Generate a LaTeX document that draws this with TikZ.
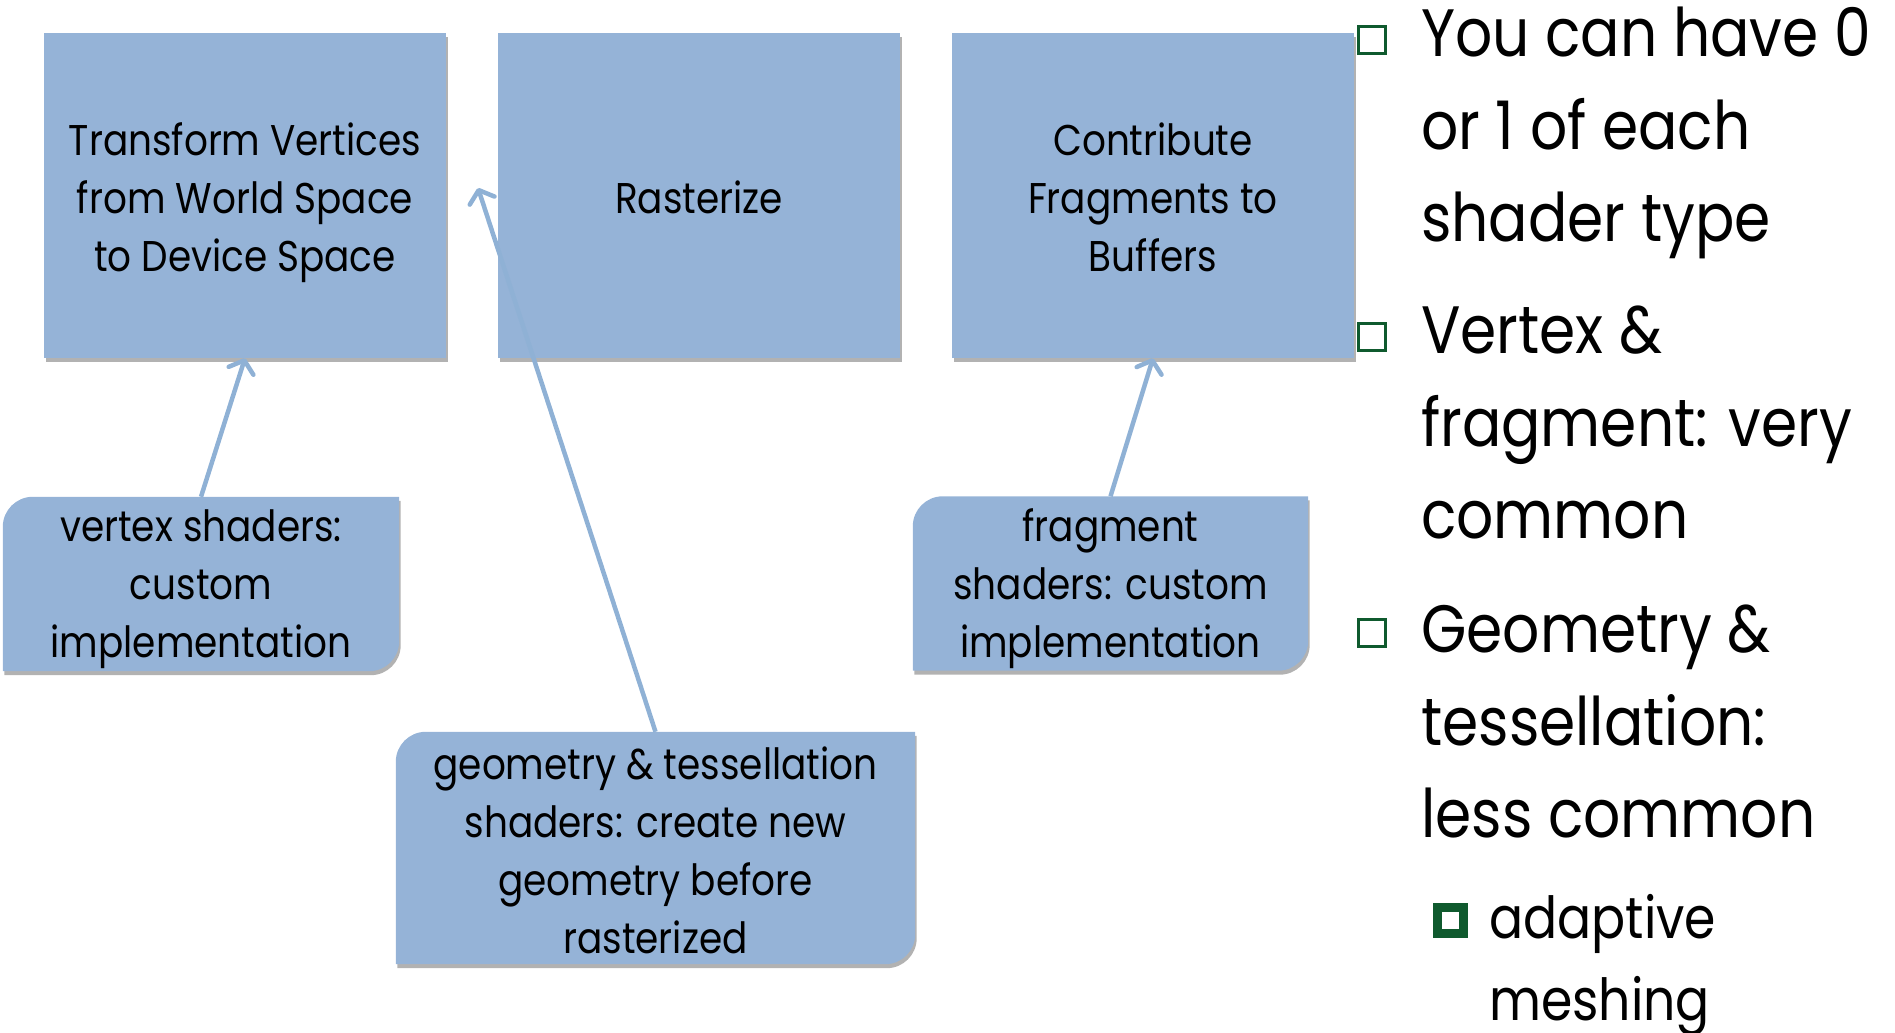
\documentclass[tikz,border=0pt]{standalone}
\usepackage{fontspec}
\setmainfont[FakeStretch=0.87]{Poppins}
\usetikzlibrary{arrows.meta,shadows,calc,backgrounds}
\definecolor{boxblue}{HTML}{95B3D7}
\definecolor{arrowblue}{HTML}{8FB1D5}
\definecolor{bulletgreen}{HTML}{0F5A2E}
\newcommand\bxfont{\fontsize{43}{58}\selectfont}
\newcommand\bigfont{\fontsize{67}{92.5}\selectfont}
\newcommand\subfont{\fontsize{58}{82}\selectfont}
\newcommand\lowered[2]{\raisebox{#1}[\height][\depth]{\begin{tabular}{@{}c@{}}#2\end{tabular}}}
\begin{document}
\begin{tikzpicture}[x=1pt,y=1pt,
  shade/.style={drop shadow={shadow xshift=1.5pt,shadow yshift=-4pt,opacity=0.3,fill=black}},
  stagebox/.style={rectangle, fill=boxblue, minimum width=402pt, minimum height=325pt, inner sep=0pt, shade, font=\bxfont},
  callout/.style={rectangle, inner sep=0pt, font=\bxfont},
  calloutfill/.style={fill=boxblue, shade},
  conn/.style={draw=arrowblue, line width=4.5pt, -{Straight Barb[length=11pt,width=26pt,line width=4.5pt,round]}},
  bulletbox/.style={rectangle, draw=bulletgreen, line width=3pt, minimum size=27pt, inner sep=0pt},
  subbullet/.style={rectangle, draw=bulletgreen, line width=9pt, minimum size=26pt, inner sep=0pt},
  itemtext/.style={anchor=base west, inner sep=0pt, font=\bigfont},
  subtext/.style={anchor=base west, inner sep=0pt, font=\subfont}]
\useasboundingbox (0,0) rectangle (1895,1033);

% stage boxes
\node[stagebox] (b1) at (245,837.5) {\lowered{-6pt}{Transform Vertices\\from World Space\\to Device Space}};
\node[stagebox] (b2) at (699,837.5) {\lowered{-6pt}{Rasterize}};
\node[stagebox] (b3) at (1153,837.5) {\lowered{-6pt}{Contribute\\Fragments to\\Buffers}};

% callouts
\node[callout, minimum width=396pt, minimum height=174pt] (vc) at (201,449) {\lowered{-4pt}{vertex shaders:\\custom\\implementation}};
\node[callout, minimum width=519pt, minimum height=220pt] (gc) at (655.5,185) {\lowered{-6.5pt}{geometry \& tessellation\\shaders: create new\\geometry before\\rasterized}};
\node[callout, minimum width=395pt, minimum height=173pt] (fc) at (1110.5,449.5) {\lowered{-4pt}{fragment\\shaders: custom\\implementation}};

\begin{scope}[on background layer]
\foreach \c in {vc,gc,fc}{
  \fill[calloutfill] (\c.south west) -- ([yshift=-30pt]\c.north west) arc[start angle=180,end angle=90,radius=30pt] -- (\c.north east) -- ([yshift=30pt]\c.south east) arc[start angle=0,end angle=-90,radius=30pt] -- cycle;
}
\end{scope}

% connectors
\coordinate (gtip) at (478,845);
\draw[conn] (vc.north) -- (b1.south);
\draw[conn] (fc.north) -- (b3.south);
\draw[conn] (gc.north) -- (gtip);

% bullet list
\node[bulletbox] (k1) at (1371.5,993) {};
\node[itemtext] (i1) at (1421,976) {\begin{tabular}[t]{@{}l@{}}You can have 0\\or 1 of each\\shader type\end{tabular}};
\node[bulletbox] (k2) at (1371.5,696) {};
\node[itemtext] (i2) at (1421,679) {\begin{tabular}[t]{@{}l@{}}Vertex \&\\fragment: very\\common\end{tabular}};
\node[bulletbox] (k3) at (1371.5,399.5) {};
\node[itemtext] (i3) at (1421,380) {\begin{tabular}[t]{@{}l@{}}Geometry \&\\tessellation:\\less common\end{tabular}};
\node[subbullet] (k4) at (1450.5,112.5) {};
\node[subtext] (i4) at (1489,94) {\begin{tabular}[t]{@{}l@{}}adaptive\\meshing\end{tabular}};
\end{tikzpicture}
\end{document}
